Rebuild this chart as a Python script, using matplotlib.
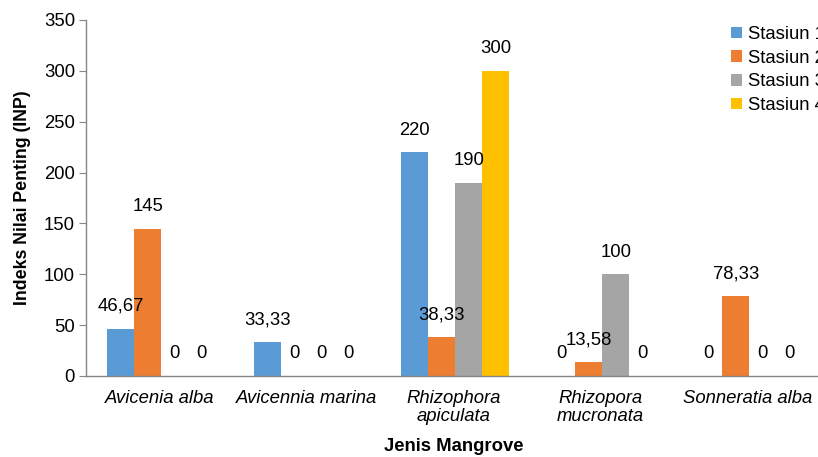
import matplotlib
matplotlib.use("Agg")
import matplotlib.pyplot as plt
import numpy as np

plt.rcParams['font.family'] = ['Liberation Sans', 'DejaVu Sans']

categories = ["Avicenia alba", "Avicennia marina", "Rhizophora\napiculata",
              "Rhizopora\nmucronata", "Sonneratia alba"]
series_names = ["Stasiun 1", "Stasiun 2", "Stasiun 3", "Stasiun 4"]
stasiun1 = [46.67, 33.33, 220, 0, 0]
stasiun2 = [145, 0, 38.33, 13.58, 78.33]
stasiun3 = [0, 0, 190, 100, 0]
stasiun4 = [0, 0, 300, 0, 0]
series = [stasiun1, stasiun2, stasiun3, stasiun4]
colors = ["#5B9BD5", "#ED7D31", "#A5A5A5", "#FFC000"]
y_ticks = [0, 50, 100, 150, 200, 250, 300, 350]


def fmt(v):
    if float(v).is_integer():
        return str(int(v))
    return f"{v:.2f}".replace(".", ",")


W, H = 818, 457
fig = plt.figure(figsize=(W / 100, H / 100), dpi=100)
ax = fig.add_axes([86 / W, (H - 376) / H, 735 / W, 356 / H])

x = np.arange(len(categories))
bw = 0.184
for i, (name, vals, c) in enumerate(zip(series_names, series, colors)):
    pos = x + (i - 1.5) * bw + 0.012
    ax.bar(pos, vals, width=bw, color=c, label=name, zorder=2)
    for px, v in zip(pos, vals):
        ax.annotate(fmt(v), (px, v), xytext=(0, 16), textcoords="offset points",
                    ha="center", va="center", fontsize=13.3, color="#000000")

ax.set_xlim(-0.5, len(categories) - 0.5)
ax.set_ylim(0, 350)
ax.set_yticks(y_ticks)
ax.set_xticks(x)
ax.set_xticklabels(categories, fontsize=13.3, style="italic", linespacing=1.1)
ax.tick_params(axis="x", length=0, pad=10)
ax.tick_params(axis="y", labelsize=13.3, length=5, color="#868686", pad=3)

for s in ["top", "right"]:
    ax.spines[s].set_visible(False)
for s in ["left", "bottom"]:
    ax.spines[s].set_color("#868686")
    ax.spines[s].set_linewidth(1)

ax.set_ylabel("Indeks Nilai Penting (INP)", fontsize=12.8, fontweight="bold", labelpad=9)
ax.set_xlabel("Jenis Mangrove", fontsize=13.3, fontweight="bold", labelpad=9)

fig.legend(loc="upper left", bbox_to_anchor=(731 / W, 1 - 26 / H), frameon=False,
           fontsize=13.3, handlelength=0.6, handleheight=0.6, handletextpad=0.3,
           labelspacing=0.36, borderaxespad=0, borderpad=0)

fig.savefig("out.png", dpi=100)
